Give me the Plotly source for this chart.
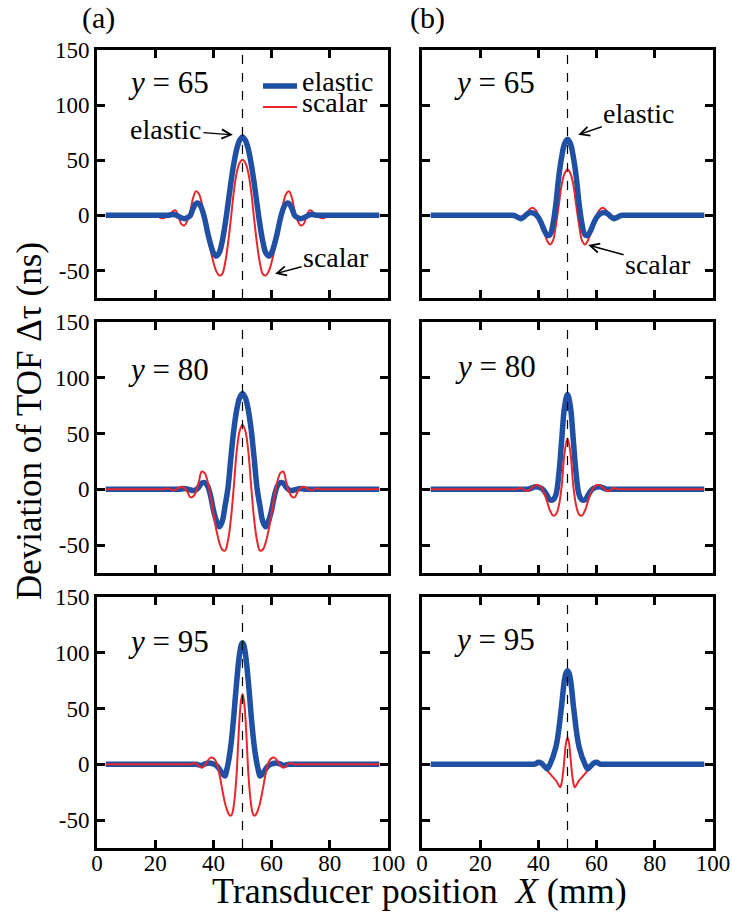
import plotly.graph_objects as go

# ---------------- data ----------------
X_A = [3, 20, 21, 22, 23, 24, 25, 26, 27, 28, 29, 30, 31, 32, 33, 34, 35, 36, 37, 38, 39,
       40, 41, 42, 43, 44, 45, 46, 47, 48, 49, 50, 51, 52, 53, 54, 55, 56, 57, 58, 59,
       60, 61, 62, 63, 64, 65, 66, 67, 68, 69, 70, 71, 72, 73, 74, 75, 76, 77, 78, 79, 80, 97]

X_B = [3, 30, 31, 32, 33, 34, 35, 36, 37, 38, 39, 40, 41, 42, 43, 44, 45, 46, 47, 48, 49,
       50, 51, 52, 53, 54, 55, 56, 57, 58, 59, 60, 61, 62, 63, 64, 65, 66, 67, 68, 69, 70, 97]

X_C = [3, 30, 31, 32, 33, 34, 35, 36, 37, 38, 39, 40, 41, 42, 43, 44,
       44.5, 45, 45.5, 46, 46.5, 47, 47.5, 48, 48.5, 49, 49.5, 50,
       50.5, 51, 51.5, 52, 52.5, 53, 53.5, 54, 54.5, 55, 55.5,
       56, 57, 58, 59, 60, 61, 62, 63, 64, 65, 66, 67, 68, 69, 70, 97]

# (a) y = 65
elastic_a65 = [0,
               0, 0, 0, 0, 0,
               0.3, 0.8, 0.5, -1, -2.3,
               -3, -2.1, -0.4, 6, 10.7,
               10.7, 6, -3, -15.5, -26,
               -34, -37, -34, -24, -8.7,
               10, 29.5, 46.5, 60, 68,
               71,
               68, 60, 46.5, 29.5, 10,
               -8.7, -24, -34, -37, -34,
               -26, -15.5, -3, 6, 10.7,
               10.7, 6, -0.4, -2.1, -3,
               -2.3, -1, 0.5, 0.8, 0.3,
               0, 0, 0, 0, 0,
               0]
scalar_a65 = [0,
              0, -1, -2.5, -2.5, -1.5,
              0.5, 3.5, 4.5, -1, -8,
              -9.2, -5, 2.9, 15.6, 21.8,
              19.6, 11, -1.6, -17, -31,
              -42.6, -50.7, -54.6, -53.3, -43.5,
              -26, -3.5, 21, 38.5, 47.5,
              50.5,
              47.5, 38.5, 21, -3.5, -26,
              -43.5, -53.3, -54.6, -50.7, -42.6,
              -31, -17, -1.6, 11, 19.6,
              21.8, 15.6, 2.9, -5, -9.2,
              -8, -1, 4.5, 3.5, 0.5,
              -1.5, -2.5, -2.5, -1, 0,
              0]

# (a) y = 80
elastic_a80 = [0,
               0, 0, 0, 0, 0,
               0, 0, 0, 0, 0.3,
               0.8, 0.3, -0.5, -1, -0.5,
               2, 5.5, 6, 3, -5.5,
               -18.5, -28, -33.5, -29, -15,
               1, 28, 53, 71, 82,
               86,
               82, 71, 53, 28, 1,
               -15, -29, -33.5, -28, -18.5,
               -5.5, 3, 6, 5.5, 2,
               -0.5, -1, -0.5, 0.3, 0.8,
               0.3, 0, 0, 0, 0,
               0, 0, 0, 0, 0,
               0]
scalar_a80 = [0,
              0, 0, 0, 0, 0.8,
              0.5, -0.8, -0.5, 1.2, 2.4,
              1.3, -1.8, -7, -6.6, -2.3,
              7, 16, 14.5, 7.2, -5.4,
              -21.5, -36.3, -47.3, -54, -55,
              -46, -27, 2, 34, 52,
              58,
              52, 34, 2, -27, -46,
              -55, -54, -47.3, -36.3, -21.5,
              -5.4, 7.2, 14.5, 16, 7,
              -2.3, -6.6, -7, -1.8, 1.3,
              2.4, 1.2, -0.5, -0.8, 0.5,
              0.8, 0, 0, 0, 0,
              0]

# (a) y = 95
elastic_a95 = [0,
               0, 0, 0, 0, 0,
               -0.5, -1, 0.3, 1, 1,
               0.3, -1, -4, -8, -10.5,
               -6, 0, 7.5, 17, 29, 43, 59, 74, 88, 99, 106.5,
               109,
               106.5, 99, 88, 74, 59, 43, 29, 17, 7.5, 0, -6,
               -10.5, -8, -4, -1, 0.3,
               1, 1, 0.3, -1, -0.5,
               0, 0, 0, 0, 0,
               0]
scalar_a95 = [0,
              0, 0, 0, 0.8, 0.8,
              -1.5, -3, -1, 3, 6,
              5.5, 2, -8, -22, -35,
              -39.5, -43, -45.5, -46, -44, -37, -25, -8, 18, 42, 57,
              63,
              57, 42, 18, -8, -25, -37, -44, -46, -45.5, -43, -39.5,
              -35, -22, -8, 2, 5.5,
              6, 3, -1, -3, -1.5,
              0.8, 0.8, 0, 0, 0,
              0]

# (b) y = 65
elastic_b65 = [0,
               0, 0, -0.5, -2, -3,
               -1.5, 1, 2.4, 2.2, 1,
               -2, -7, -13.5, -18, -17.5,
               -8, 10, 35, 53, 65,
               69,
               65, 53, 35, 10, -8,
               -17.5, -18, -13.5, -7, -2,
               1, 2.2, 2.4, 1, -1.5,
               -3, -2, -0.5, 0, 0,
               0]
scalar_b65 = [0,
              0, 0, 0, -0.5, -1,
              -0.5, 2, 5.5, 6.9, 5,
              0, -7, -15, -23, -26.5,
              -23, -9, 9, 28, 38,
              41.5,
              38, 28, 9, -9, -23,
              -26.5, -23, -15, -7, 0,
              5, 6.9, 5.5, 2, -0.5,
              -1, -0.5, 0, 0, 0,
              0]

# (b) y = 80
elastic_b80 = [0,
               0, 0, 0, 0, 0,
               0, 0, 0.5, 1.5, 2.4,
               2, 1, -1.5, -5.5, -9.5,
               -9.5, -5, 13, 44, 74,
               85,
               74, 44, 13, -5, -9.5,
               -9.5, -5.5, -1.5, 1, 2,
               2.4, 1.5, 0.5, 0, 0,
               0, 0, 0, 0, 0,
               0]
scalar_b80 = [0,
              0, 0, 0, 0.5, 1.2,
              -0.5, -1.5, -0.5, 2, 3.8,
              3.8, 1.5, -3.5, -11, -19,
              -23.5, -22.5, -15, 3, 33,
              45.5,
              33, 3, -15, -22.5, -23.5,
              -19, -11, -3.5, 1.5, 3.8,
              3.8, 2, -0.5, -1.5, -0.5,
              1.2, 0.5, 0, 0, 0,
              0]

# (b) y = 95
elastic_b95 = [0,
               0, 0, 0, 0, 0,
               0, 0, 0, 0, 0.5,
               1.8, 1, -1.5, -4, 0,
               3.5, 6.5, 11, 15.5, 22, 31, 42, 53, 66, 76.5, 82,
               84,
               82, 76.5, 66, 53, 42, 31, 22, 15.5, 11, 6.5, 3.5,
               0, -4, -1.5, 1, 1.8,
               0.5, 0, 0, 0, 0,
               0, 0, 0, 0, 0,
               0]
scalar_b95 = [0,
              0, 0, 0, 0, 0,
              0, 0, 0, 0, 0,
              1, 1, -1.5, -5.5, -8.5,
              -10, -11.5, -13, -14.4, -16.5, -19, -20.5, -16.5, -7, 7, 19.5,
              24,
              19.5, 7, -7, -16.5, -20.5, -19, -16.5, -14.4, -13, -11.5, -10,
              -8.5, -5.5, -1.5, 1, 1,
              0, 0, 0, 0, 0,
              0, 0, 0, 0, 0,
              0]

x_ticks = [0, 20, 40, 60, 80, 100]
x_ticktext = ["0", "20", "40", "60", "80", "100"]
y_ticks = [-50, 0, 50, 100, 150]
y_ticktext = ["-50", "0", "50", "100", "150"]
y_labels = ["65", "80", "95"]

# ---------------- styling / layout ----------------
W, H = 732, 914
BLUE = "#1f50a3"
RED = "#e8262b"
SERIF = "Liberation Serif"


def fx(p):
    return p / W


def fy(p):
    return 1 - p / H


col_px = [(97, 388), (422, 713)]
row_px = [(50, 298), (322, 573), (597, 848)]

panels = [
    # row, col, x, elastic, scalar, red_on_top
    (0, 0, X_A, elastic_a65, scalar_a65, False),
    (0, 1, X_B, elastic_b65, scalar_b65, False),
    (1, 0, X_A, elastic_a80, scalar_a80, True),
    (1, 1, X_B, elastic_b80, scalar_b80, True),
    (2, 0, X_C, elastic_a95, scalar_a95, True),
    (2, 1, X_C, elastic_b95, scalar_b95, False),
]

fig = go.Figure()
layout = dict(
    width=W, height=H,
    margin=dict(l=0, r=0, t=0, b=0),
    paper_bgcolor="white", plot_bgcolor="white",
    showlegend=False,
)
shapes = []
annotations = []

for i, (r, c, xs, el, sc, red_top) in enumerate(panels):
    k = i + 1
    xa = "x" if k == 1 else f"x{k}"
    ya = "y" if k == 1 else f"y{k}"
    xkey = "xaxis" if k == 1 else f"xaxis{k}"
    ykey = "yaxis" if k == 1 else f"yaxis{k}"

    blue = go.Scatter(x=xs, y=el, mode="lines", line=dict(color=BLUE, width=5.5, shape="spline"),
                      xaxis=xa, yaxis=ya, name="elastic")
    red = go.Scatter(x=xs, y=sc, mode="lines", line=dict(color=RED, width=2, shape="spline"),
                     xaxis=xa, yaxis=ya, name="scalar")
    if red_top:
        fig.add_trace(blue)
        fig.add_trace(red)
    else:
        fig.add_trace(red)
        fig.add_trace(blue)

    x0, x1 = col_px[c]
    y0, y1 = row_px[r]
    common = dict(ticks="inside", ticklen=8, tickwidth=2.5, tickcolor="black",
                  showline=True, linewidth=3, linecolor="black", mirror="ticks",
                  showgrid=False, zeroline=False, fixedrange=True, automargin=False,
                  tickfont=dict(family=SERIF, size=23, color="black"))
    layout[xkey] = dict(domain=[fx(x0), fx(x1)], range=[0, 100], anchor=ya,
                        tickvals=x_ticks, ticktext=x_ticktext,
                        ticklabelstandoff=-8,
                        showticklabels=(r == 2), **common)
    layout[ykey] = dict(domain=[fy(y1), fy(y0)], range=[-75, 150], anchor=xa,
                        tickvals=y_ticks, ticktext=y_ticktext,
                        showticklabels=(c == 0), **common)

    # dashed reference line at X = 50
    shapes.append(dict(type="line", xref=xa, yref=f"{ya} domain", x0=50, x1=50, y0=0, y1=1,
                       line=dict(color="black", width=1.2, dash="dash"), layer="above"))

# "y = .." labels
label_pos = [(168, 83), (494, 83), (168, 369), (495, 367), (168, 641), (494, 639)]
for i, (px_, py_) in enumerate(label_pos):
    annotations.append(dict(text=f"<i>y</i> = {y_labels[i // 2]}", x=fx(px_), y=fy(py_),
                            xref="paper", yref="paper", xanchor="center", yanchor="middle",
                            showarrow=False, font=dict(family=SERIF, size=31, color="black")))

# legend (panel a, y = 65)
shapes.append(dict(type="line", xref="paper", yref="paper", x0=fx(263), x1=fx(297),
                   y0=fy(86), y1=fy(86), line=dict(color=BLUE, width=5.5)))
shapes.append(dict(type="line", xref="paper", yref="paper", x0=fx(263), x1=fx(297),
                   y0=fy(107), y1=fy(107), line=dict(color=RED, width=2)))
for txt, py_ in [("elastic", 81), ("scalar", 103)]:
    annotations.append(dict(text=txt, x=fx(300), y=fy(py_), xref="paper", yref="paper",
                            xanchor="left", yanchor="middle", showarrow=False,
                            font=dict(family=SERIF, size=28, color="black")))

# arrow call-outs
arrow_style = dict(showarrow=True, arrowhead=5, arrowsize=1.3, arrowwidth=1.4, arrowcolor="black",
                   axref="pixel", ayref="pixel", font=dict(family=SERIF, size=28, color="black"))
annotations.append(dict(text="elastic", xref="x", yref="y", x=46.7, y=73, ax=-67, ay=-5, **arrow_style))
annotations.append(dict(text="scalar", xref="x", yref="y", x=61.2, y=-53, ax=61, ay=-16, **arrow_style))
annotations.append(dict(text="elastic", xref="x2", yref="y2", x=53.7, y=73, ax=61, ay=-21, **arrow_style))
annotations.append(dict(text="scalar", xref="x2", yref="y2", x=57.1, y=-27, ax=70, ay=19, **arrow_style))

# panel tags
annotations.append(dict(text="(a)", x=fx(98), y=fy(18), xref="paper", yref="paper", showarrow=False,
                        xanchor="center", yanchor="middle", font=dict(family=SERIF, size=30, color="black")))
annotations.append(dict(text="(b)", x=fx(427), y=fy(18), xref="paper", yref="paper", showarrow=False,
                        xanchor="center", yanchor="middle", font=dict(family=SERIF, size=30, color="black")))

# axis titles
annotations.append(dict(text="Transducer position  <i>X</i> (mm)", x=fx(419), y=fy(891),
                        xref="paper", yref="paper", showarrow=False, xanchor="center", yanchor="middle",
                        font=dict(family=SERIF, size=36, color="black")))
annotations.append(dict(text="Deviation of TOF Δτ (ns)", x=fx(30), y=fy(421), textangle=-90,
                        xref="paper", yref="paper", showarrow=False, xanchor="center", yanchor="middle",
                        font=dict(family=SERIF, size=35, color="black")))

layout["shapes"] = shapes
layout["annotations"] = annotations
fig.update_layout(**layout)

fig.write_html("out.html",
               config={"displayModeBar": False},
               post_script="document.body.style.margin='0px';document.body.style.padding='0px';")
